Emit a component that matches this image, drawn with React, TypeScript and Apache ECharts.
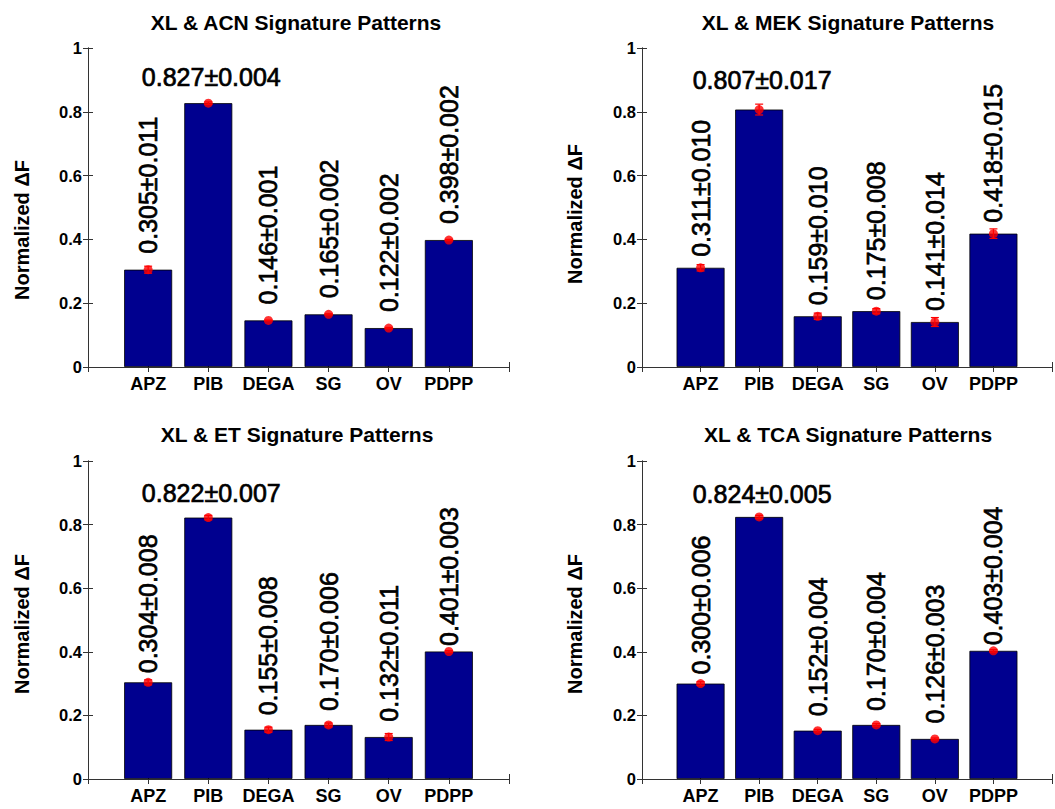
import React, { useEffect, useRef } from "react";
import * as echarts from "echarts";

const categories = ["APZ", "PIB", "DEGA", "SG", "OV", "PDPP"];
const yTicks = [0, 0.2, 0.4, 0.6, 0.8, 1];

const acnMeans = [0.305, 0.827, 0.146, 0.165, 0.122, 0.398];
const acnErrors = [0.011, 0.004, 0.001, 0.002, 0.002, 0.002];
const mekMeans = [0.311, 0.807, 0.159, 0.175, 0.141, 0.418];
const mekErrors = [0.01, 0.017, 0.01, 0.008, 0.014, 0.015];
const etMeans = [0.304, 0.822, 0.155, 0.17, 0.132, 0.401];
const etErrors = [0.008, 0.007, 0.008, 0.006, 0.011, 0.003];
const tcaMeans = [0.3, 0.824, 0.152, 0.17, 0.126, 0.403];
const tcaErrors = [0.006, 0.005, 0.004, 0.004, 0.003, 0.004];

const titles = [
  "XL & ACN Signature Patterns",
  "XL & MEK Signature Patterns",
  "XL & ET Signature Patterns",
  "XL & TCA Signature Patterns",
];
const yName = "Normalized \u0394F";

const FONT = "'Liberation Sans', Arial, Helvetica, sans-serif";
const AXIS = "#333333";
const BAR = "#00008f";

const panels = [
  { means: acnMeans, errors: acnErrors, grid: { left: 88, top: 48, width: 421, height: 319 }, titleXY: [296, 22], nameXY: [22, 230], gapBase: 16, gapSlope: 0, pibGap: 14 },
  { means: mekMeans, errors: mekErrors, grid: { left: 642, top: 48, width: 421, height: 319 }, titleXY: [848, 22], nameXY: [575, 214], gapBase: 11, gapSlope: 0, pibGap: 17 },
  { means: etMeans, errors: etErrors, grid: { left: 88, top: 461, width: 421, height: 318 }, titleXY: [297, 434], nameXY: [22, 624], gapBase: 20, gapSlope: 36, pibGap: 12 },
  { means: tcaMeans, errors: tcaErrors, grid: { left: 642, top: 461, width: 421, height: 318 }, titleXY: [848, 434], nameXY: [575, 624], gapBase: 20, gapSlope: 36, pibGap: 10 },
];

function buildOption() {
  const grid: any[] = [];
  const xAxis: any[] = [];
  const yAxis: any[] = [];
  const series: any[] = [];
  const graphic: any[] = [];

  panels.forEach((p, i) => {
    grid.push({ ...p.grid, containLabel: false });
    const tickStyle = { inside: true, length: 5, lineStyle: { color: AXIS, width: 1 } };
    const lineStyle = { show: true, lineStyle: { color: AXIS, width: 1 } };
    xAxis.push({
      type: "value", gridIndex: i, min: 0, max: 7, interval: 1, position: "bottom",
      axisLine: lineStyle, axisTick: tickStyle, splitLine: { show: false },
      axisLabel: {
        margin: 8, fontSize: 18, fontWeight: "bold", fontFamily: FONT, color: "#000",
        formatter: (v: number) => categories[Math.round(v) - 1] ?? "",
      },
    });
    xAxis.push({
      type: "value", gridIndex: i, min: 0, max: 7, interval: 1, position: "top",
      axisLine: lineStyle, axisTick: tickStyle, splitLine: { show: false },
      axisLabel: { show: false },
    });
    yAxis.push({
      type: "value", gridIndex: i, min: yTicks[0], max: yTicks[yTicks.length - 1], interval: 0.2, position: "left",
      axisLine: lineStyle, axisTick: tickStyle, splitLine: { show: false },
      axisLabel: {
        margin: 6, fontSize: 16.5, fontWeight: "bold", fontFamily: FONT, color: "#000",
        formatter: (v: number) => String(+v.toFixed(1)),
      },
    });
    yAxis.push({
      type: "value", gridIndex: i, min: yTicks[0], max: yTicks[yTicks.length - 1], interval: 0.2, position: "right",
      axisLine: lineStyle, axisTick: tickStyle, splitLine: { show: false },
      axisLabel: { show: false },
    });

    const xi = i * 2;
    const yi = i * 2;
    const textLook = {
      fontSize: 25, fontFamily: FONT, color: "#000",
      textBorderColor: "#000", textBorderWidth: 0.7,
    };

    series.push({
      type: "bar",
      xAxisIndex: xi,
      yAxisIndex: yi,
      barWidth: 48,
      itemStyle: { color: BAR, borderColor: "#000", borderWidth: 0.8 },
      data: p.means.map((m, j) => {
        const text = `${m.toFixed(3)}\u00b1${p.errors[j].toFixed(3)}`;
        const horizontal = categories[j] === "PIB";
        const label = horizontal
          ? { show: true, position: "top", distance: p.pibGap, offset: [3, 0], formatter: text, ...textLook }
          : {
              show: true, position: "top", rotate: 90, align: "left", verticalAlign: "middle",
              distance: p.gapBase - p.gapSlope * m, formatter: text, ...textLook,
            };
        return { value: [j + 1, m], label };
      }),
    });

    series.push({
      type: "custom",
      xAxisIndex: xi,
      yAxisIndex: yi,
      z: 4,
      encode: { x: 0, y: [1, 2] },
      data: p.means.map((m, j) => [j + 1, m - p.errors[j], m + p.errors[j]]),
      renderItem: (params: any, api: any) => {
        const x = api.value(0);
        const lo = api.coord([x, api.value(1)]);
        const hi = api.coord([x, api.value(2)]);
        const hw = 4;
        const st = { stroke: "#ff0000", lineWidth: 1.2 };
        return {
          type: "group",
          children: [
            { type: "line", shape: { x1: lo[0], y1: lo[1], x2: hi[0], y2: hi[1] }, style: st },
            { type: "line", shape: { x1: lo[0] - hw, y1: lo[1], x2: lo[0] + hw, y2: lo[1] }, style: st },
            { type: "line", shape: { x1: hi[0] - hw, y1: hi[1], x2: hi[0] + hw, y2: hi[1] }, style: st },
          ],
        };
      },
    });

    series.push({
      type: "scatter",
      xAxisIndex: xi,
      yAxisIndex: yi,
      z: 5,
      symbol: "circle",
      symbolSize: 9,
      itemStyle: { color: "#ff0000" },
      data: p.means.map((m, j) => [j + 1, m]),
    });

    graphic.push({
      type: "text",
      x: p.titleXY[0],
      y: p.titleXY[1],
      style: {
        text: titles[i], align: "center", verticalAlign: "middle",
        font: `bold 21px ${FONT}`, fill: "#000",
      },
    });
    graphic.push({
      type: "text",
      x: p.nameXY[0],
      y: p.nameXY[1],
      rotation: Math.PI / 2,
      style: {
        text: yName, align: "center", verticalAlign: "middle",
        font: `bold 20px ${FONT}`, fill: "#000",
      },
    });
  });

  return {
    animation: false,
    backgroundColor: "#ffffff",
    grid,
    xAxis,
    yAxis,
    series,
    graphic,
  };
}

export default function App() {
  const ref = useRef<HTMLDivElement>(null);
  useEffect(() => {
    if (!ref.current) return;
    const chart = echarts.init(ref.current, undefined, { renderer: "svg" });
    chart.setOption(buildOption() as any);
    return () => chart.dispose();
  }, []);
  return (
    <div
      ref={ref}
      style={{ position: "fixed", left: 0, top: 0, width: 1055, height: 809, background: "#fff" }}
    />
  );
}
